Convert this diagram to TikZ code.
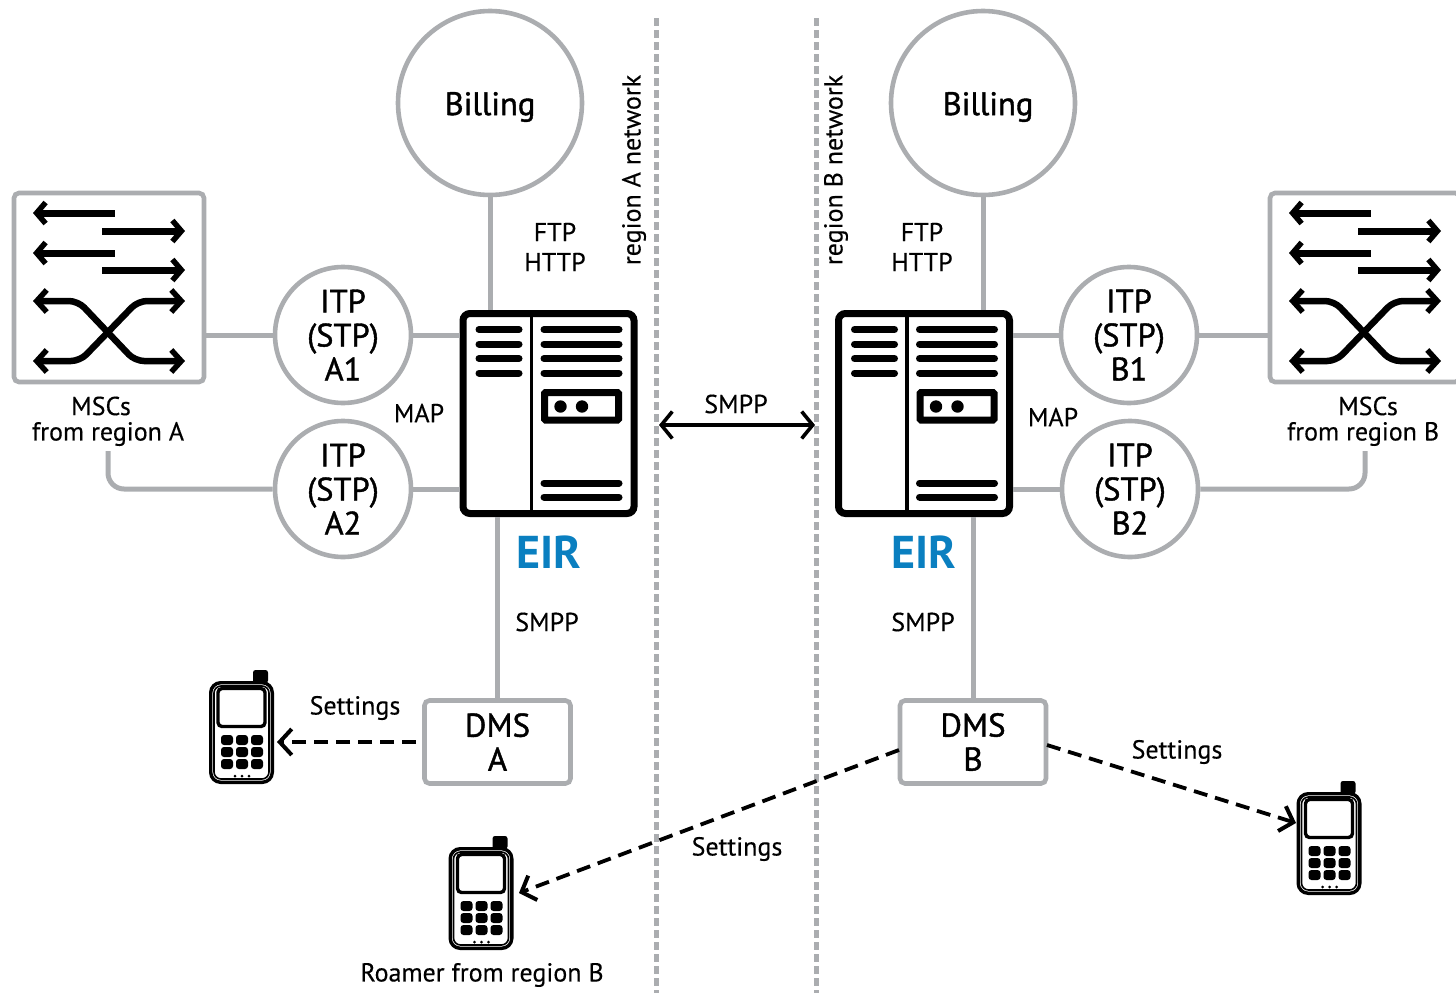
\documentclass[tikz,border=0pt]{standalone}
\usepackage{fontspec}
\setmainfont{PT Sans}
\newfontfamily\bigf{PT Sans}[FakeBold=1.2]
\newfontfamily\smallf{PT Sans}[FakeBold=0.3]
\usetikzlibrary{arrows.meta}
\definecolor{lg}{HTML}{ABADB0}
\definecolor{eirblue}{HTML}{0A7FC0}
\tikzset{
 x=1pt,y=-1pt,
 circ/.style={circle,draw=lg,line width=4.6pt,minimum size=184pt,inner sep=0,align=center,font=\bigf\fontsize{32.5}{34}\selectfont,fill=white},
 itp/.style={circ,minimum size=136pt},
 bx/.style={rectangle,rounded corners=5pt,draw=lg,line width=4.6pt,inner sep=0,fill=white,align=center,font=\bigf\fontsize{33}{34}\selectfont},
 eirb/.style={rectangle,rounded corners=7pt,draw=black,line width=7pt,minimum width=171pt,minimum height=200pt,inner sep=0,fill=white},
 lbl/.style={inner sep=0,align=center,font=\smallf\fontsize{26}{30}\selectfont},
 blbl/.style={inner sep=0,font=\bigf\fontsize{32.5}{34}\selectfont},
 conn/.style={draw=lg,line width=5pt},
 dashc/.style={draw=black,line width=3.8pt,dash pattern=on 14pt off 8pt,-{Straight Barb[length=12pt,width=26pt,line width=4pt]}},
 bar/.style={line width=7pt,line cap=round,black},
 sw/.style={line width=7pt,black,{Straight Barb[length=9pt,width=21pt,line width=5.5pt]}-},
 swr/.style={line width=7pt,black,-{Straight Barb[length=9pt,width=21pt,line width=5.5pt]}},
 sx/.style={line width=6.5pt,black,{Straight Barb[length=10pt,width=22pt,line width=5.5pt]}-{Straight Barb[length=10pt,width=22pt,line width=5.5pt]}},
 sepl/.style={draw=lg,line width=5pt,dash pattern=on 8pt off 4pt},
}
\newcommand{\eirinner}[1]{\begin{scope}[shift={(#1,0)}]
 \draw[black,line width=3.4pt] (531.5,313)--(531.5,514);
 \foreach \y in {329.5,344,358.5,373}{\draw[bar] (479,\y)--(519,\y);\draw[bar] (544,\y)--(619,\y);}
 \draw[black,line width=7pt,rounded corners=1pt] (544.5,392.5) rectangle (618.5,420);
 \fill[black] (560.5,406.5) circle (6.2pt) (582,406.5) circle (6.2pt);
 \draw[bar] (544,483)--(619,483); \draw[bar] (544,497)--(619,497);
\end{scope}}
\newcommand{\mscinner}[1]{\begin{scope}[shift={(#1,0)}]
 \draw[sw] (33,213)--(115,213); \draw[swr] (102,231)--(185,231);
 \draw[sw] (33,253)--(115,253); \draw[swr] (102,270)--(185,270);
 \draw[sx,rounded corners=9pt] (33,301)--(78,301)--(135,361)--(185,361);
 \draw[sx,rounded corners=9pt] (33,361)--(80,361)--(138,301)--(185,301);
\end{scope}}
\newcommand{\phoneinner}[2]{\begin{scope}[shift={(#1,#2)}]
 \fill[black,rounded corners=2.5pt] (44,0) rectangle (59,13);
 \draw[black,line width=3.4pt,fill=white,rounded corners=10pt] (1.7,12.7) rectangle (63.3,112.3);
 \draw[black,line width=1.6pt,rounded corners=7pt] (5,16) rectangle (60,109);
 \draw[black,line width=3.4pt,rounded corners=4pt] (9,18.5) rectangle (56,56.5);
 \foreach \cx in {18,33,48}\foreach \cy in {70,82,94}{\fill[black,rounded corners=3pt] (\cx-6,\cy-5) rectangle (\cx+6,\cy+5);}
 \foreach \cx in {26,33,40}{\fill[black] (\cx,106) circle (1.5pt);}
\end{scope}}
\begin{document}
\begin{tikzpicture}
\useasboundingbox (0,0) rectangle (1456,993);
% separators
\coordinate (s1t) at (656,18); \coordinate (s1b) at (656,993);
\coordinate (s2t) at (816,18); \coordinate (s2b) at (816,993);
\draw[sepl] (s1t)--(s1b); \draw[sepl] (s2t)--(s2b);
% nodes
\node[circ] (billA) at (490,103) {};
\node[circ] (billB) at (983,103) {};
\node[blbl] at (490,107) {Billing};
\node[blbl] at (988,107) {Billing};
\node[itp] (a1) at (343,335) {ITP\\(STP)\\A1};
\node[itp] (a2) at (343,489) {ITP\\(STP)\\A2};
\node[itp] (b1) at (1129,335) {ITP\\(STP)\\B1};
\node[itp] (b2) at (1130,489) {ITP\\(STP)\\B2};
\node[bx,minimum width=190pt,minimum height=189pt] (mscA) at (109,287.5) {};
\node[bx,minimum width=190pt,minimum height=189pt] (mscB) at (1365,287.5) {};
\node[eirb] (eirA) at (548.5,413.5) {};
\node[eirb] (eirB) at (924,413.5) {};
\node[bx,minimum width=146pt,minimum height=83pt] (dmsA) at (497.5,742) {DMS\\A};
\node[bx,minimum width=146pt,minimum height=83pt] (dmsB) at (973,742) {DMS\\B};
\mscinner{0}\mscinner{1256}
\eirinner{0}\eirinner{375.5}
\node[minimum width=65pt,minimum height=114pt,inner sep=0] (ph1) at (241.5,727) {};
\node[minimum width=65pt,minimum height=114pt,inner sep=0] (ph2) at (481,893) {};
\node[minimum width=65pt,minimum height=114pt,inner sep=0] (ph3) at (1329,838) {};
\phoneinner{209}{670}\phoneinner{448.5}{836}\phoneinner{1296.5}{781}
% connectors
\draw[conn] (billA.south)--(billA.south |- eirA.north);
\draw[conn] (billB.south)--(billB.south |- eirB.north);
\draw[conn] (mscA.east |- a1.west)--(a1.west);
\draw[conn] (a1.east)--(a1.east -| eirA.west);
\draw[conn] (a2.east)--(a2.east -| eirA.west);
\draw[conn] (b1.east)--(b1.east -| mscB.west);
\draw[conn] (b1.west)--(b1.west -| eirB.east);
\draw[conn] (b2.west)--(b2.west -| eirB.east);
\coordinate (ma) at (108,451); \coordinate (mb) at (1365,451);
\draw[conn,rounded corners=16pt] (ma) |- (a2.west);
\draw[conn,rounded corners=16pt] (mb) |- (b2.east);
\draw[conn] (dmsA.north |- eirA.south)--(dmsA.north);
\draw[conn] (dmsB.north |- eirB.south)--(dmsB.north);
\coordinate (dA) at (416,742);
\coordinate (p1a) at (277,742);
\coordinate (p2a) at (519,893);
\coordinate (p3a) at (1296,823);
\coordinate (dB1) at (899,750);
\coordinate (dB2) at (1047,745);
\draw[dashc] (dA)--(p1a);
\draw[dashc] (dB1)--(p2a);
\draw[dashc] (dB2)--(p3a);
\coordinate (sl) at (659,425); \coordinate (sr) at (815,425);
\draw[black,line width=3.6pt,{Straight Barb[length=11pt,width=27pt,line width=3.6pt]}-{Straight Barb[length=11pt,width=27pt,line width=3.6pt]}] (sl)--(sr);
% labels
\node[lbl] at (101,406) {MSCs};
\node[lbl] at (108,434) {from region A};
\node[lbl] at (1368,406) {MSCs};
\node[lbl] at (1363,434) {from region B};
\node[lbl] (t3) at (555,247) {FTP\\HTTP};
\node[lbl] (t4) at (922,247) {FTP\\HTTP};
\node[lbl] at (419,413) {MAP};
\node[lbl] at (1053,417) {MAP};
\node[lbl] at (736,404) {SMPP};
\node[lbl] at (547,622) {SMPP};
\node[lbl] at (923,622) {SMPP};
\node[lbl] at (355,708) {Settings};
\node[lbl] at (1177,752) {Settings};
\node[lbl] at (737,849) {Settings};
\node[lbl] at (482,975) {Roamer from region B};
\node[lbl,rotate=90] at (634,170) {region A network};
\node[lbl,rotate=90] at (836,170) {region B network};
\node[inner sep=0,font=\fontsize{46}{46}\selectfont\bfseries,text=eirblue] at (548.5,552) {EIR};
\node[inner sep=0,font=\fontsize{46}{46}\selectfont\bfseries,text=eirblue] at (924,552) {EIR};
\end{tikzpicture}
\end{document}
